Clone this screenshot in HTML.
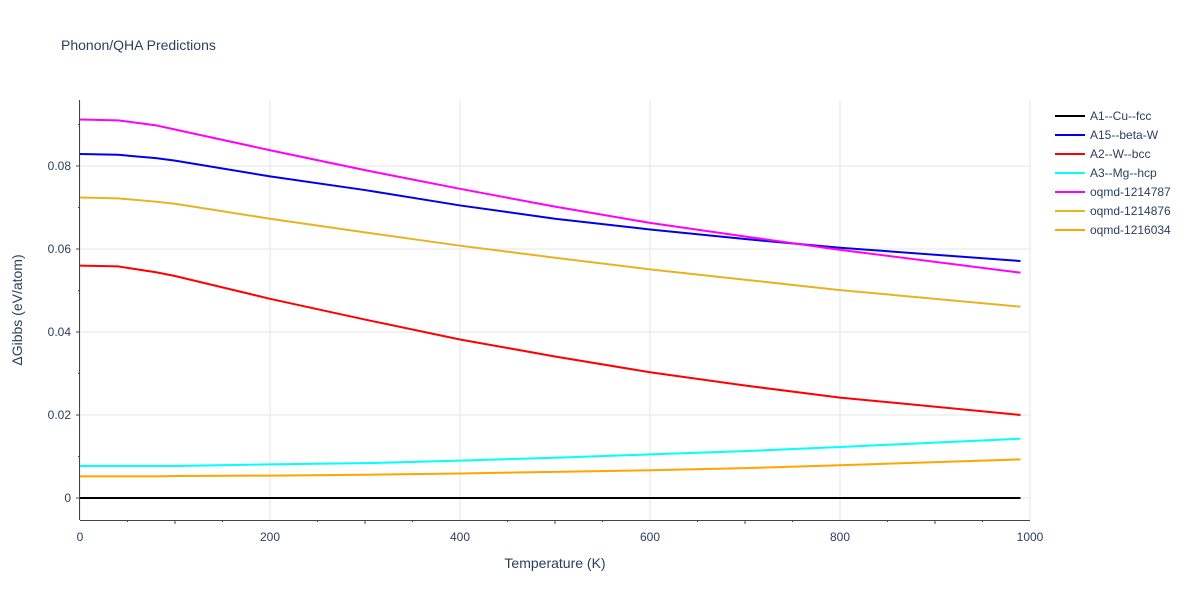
<!DOCTYPE html>
<html><head><meta charset="utf-8"><style>
body{margin:0;background:#fff;font-family:"Liberation Sans",sans-serif}
svg text{font-family:"Liberation Sans",sans-serif;fill:#2a3f5f}
</style></head><body>
<svg id="c" width="1200" height="600">
<text x="61" y="50" font-size="14">Phonon/QHA Predictions</text>
<g id="grid"></g><g id="series"></g><g id="axes"></g><g id="legend"></g>
<text x="555" y="568" font-size="14" text-anchor="middle">Temperature (K)</text>
<text transform="translate(22,310) rotate(-90)" font-size="14" text-anchor="middle">ΔGibbs (eV/atom)</text>
</svg>
<script>
const temps=[0,40,80,100,200,300,400,500,600,700,800,990];
const names=["A1--Cu--fcc","A15--beta-W","A2--W--bcc","A3--Mg--hcp","oqmd-1214787","oqmd-1214876","oqmd-1216034"];
const colors=["#000000","#0000ee","#ff0000","#00ffff","#ff00ff","#e6b422","#ffa500"];
const s0=[0,0,0,0,0,0,0,0,0,0,0,0];
const s1=[0.0829,0.0827,0.0819,0.0813,0.0775,0.0742,0.0705,0.0673,0.0647,0.0624,0.0603,0.0571];
const s2=[0.0560,0.0558,0.0544,0.0535,0.0480,0.0430,0.0382,0.0341,0.0303,0.0271,0.0242,0.0200];
const s3=[0.0077,0.0077,0.0077,0.0077,0.0081,0.0084,0.0090,0.0097,0.0105,0.0113,0.0123,0.0143];
const s4=[0.0912,0.0910,0.0898,0.0888,0.0838,0.0790,0.0745,0.0702,0.0663,0.0630,0.0598,0.0543];
const s5=[0.0724,0.0722,0.0714,0.0709,0.0673,0.0640,0.0608,0.0579,0.0551,0.0526,0.0501,0.0461];
const s6=[0.0052,0.0052,0.0052,0.0053,0.0054,0.0056,0.0059,0.0063,0.0067,0.0072,0.0079,0.0093];
const series=[s0,s1,s2,s3,s4,s5,s6];
const xTicks=[0,200,400,600,800,1000];
const yTicks=[0,0.02,0.04,0.06,0.08];
const yLabels=["0","0.02","0.04","0.06","0.08"];
const X=v=>80+v*0.95, Y=v=>498-v*4150;
const NS="http://www.w3.org/2000/svg";
function mk(p,t,a){const e=document.createElementNS(NS,t);for(const k in a)e.setAttribute(k,a[k]);p.appendChild(e);return e;}
const g=document.getElementById('grid'),ax=document.getElementById('axes'),se=document.getElementById('series'),lg=document.getElementById('legend');
xTicks.forEach(t=>{const l=mk(g,'line',{x1:X(t),x2:X(t),y1:100,y2:520,stroke:'#e5e5e5'});


const tx=mk(ax,'text',{x:X(t),y:541,'font-size':12,'text-anchor':'middle'});tx.textContent=t;

});
for(let t=100;t<1000;t+=200){mk(ax,'line',{x1:X(t),x2:X(t),y1:520,y2:524,stroke:'#444'});}
for(let t=0;t<=1000;t+=50){if(t%100)mk(ax,'line',{x1:X(t),x2:X(t),y1:520,y2:522,stroke:'#444'});}
yTicks.forEach((t,i)=>{const l=mk(g,'line',{x1:80,x2:1030,y1:Y(t),y2:Y(t),stroke:'#e5e5e5'});


const tx=mk(ax,'text',{x:71,y:Y(t)+4,'font-size':12,'text-anchor':'end'});tx.textContent=yLabels[i];


mk(ax,'line',{x1:76,x2:80,y1:Y(t),y2:Y(t),stroke:'#444'});});
for(let t=0.01;t<0.095;t+=0.02)mk(ax,'line',{x1:78,x2:80,y1:Y(t),y2:Y(t),stroke:'#444'});
mk(ax,'line',{x1:79.5,x2:79.5,y1:100,y2:520,stroke:'#444'});
mk(ax,'line',{x1:80,x2:1030,y1:520.5,y2:520.5,stroke:'#444'});
series.forEach((s,i)=>{const p=mk(se,'path',{d:s.map((v,j)=>(j?'L':'M')+X(temps[j])+','+Y(v)).join(''),fill:'none',stroke:colors[i],'stroke-width':2});


const y=116+i*19;
const ge=mk(lg,'g',{});


mk(ge,'line',{x1:1055,x2:1085,y1:y,y2:y,stroke:colors[i],'stroke-width':2});
const tx=mk(ge,'text',{x:1090,y:y+4,'font-size':12});tx.textContent=names[i];});
</script>
</body></html>
